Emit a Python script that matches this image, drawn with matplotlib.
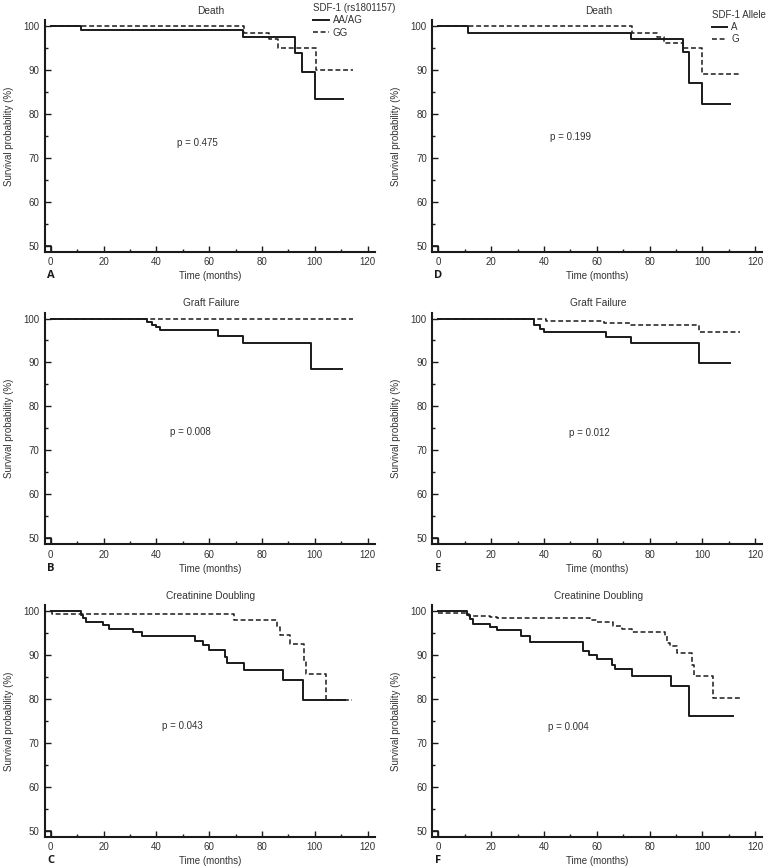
import matplotlib
matplotlib.use("Agg")
import matplotlib.pyplot as plt
from matplotlib.ticker import MultipleLocator

plt.rcParams['font.family'] = ['Liberation Sans', 'DejaVu Sans']

# Kaplan-Meier step data (time in months, survival %)
# A: Death, genotype
death_gt_aa_t = [0, 11.5, 72.9, 92.5, 95.0, 100.0, 110.8]
death_gt_aa_s = [100, 99.2, 97.6, 93.9, 89.6, 83.4, 83.4]
death_gt_gg_t = [0, 73.2, 82.8, 86.2, 100.3, 114.6]
death_gt_gg_s = [100, 98.5, 97.0, 95.1, 90.1, 90.1]

# B: Graft failure, genotype
graft_gt_aa_t = [0, 36.3, 38.2, 39.7, 41.3, 63.3, 72.8, 98.6, 110.3]
graft_gt_aa_s = [100, 99.1, 98.5, 98.0, 97.3, 96.1, 94.5, 88.6, 88.6]
graft_gt_gg_t = [0, 114.3]
graft_gt_gg_s = [100, 100]

# C: Creatinine doubling, genotype
creat_gt_aa_t = [0, 11.3, 12.4, 13.2, 19.7, 22.2, 31.3, 34.4, 54.6, 57.5, 60.0,
                 66.0, 66.9, 73.2, 88.1, 95.4, 111.4]
creat_gt_aa_s = [100, 99.1, 98.3, 97.6, 96.8, 95.9, 95.1, 94.3, 93.2, 92.3, 91.1,
                 89.6, 88.2, 86.6, 84.3, 79.8, 79.8]
creat_gt_gg_t = [0, 0.4, 69.4, 85.8, 86.8, 90.6, 95.9, 96.6, 104.2, 113.9]
creat_gt_gg_s = [100, 99.2, 97.95, 96.3, 94.5, 92.4, 88.5, 85.6, 79.7, 79.7]

# D: Death, allele
death_al_a_t = [0, 11.2, 72.8, 92.5, 94.9, 99.7, 110.5]
death_al_a_s = [100, 98.5, 97.0, 94.0, 87.0, 82.2, 82.2]
death_al_g_t = [0, 73.2, 82.7, 85.6, 92.5, 99.7, 114.2]
death_al_g_s = [100, 98.5, 97.4, 96.1, 94.9, 89.1, 89.1]

# E: Graft failure, allele
graft_al_a_t = [0, 36.1, 38.4, 40.0, 63.3, 72.8, 98.7, 110.5]
graft_al_a_s = [100, 98.6, 97.7, 97.0, 95.8, 94.5, 89.9, 89.9]
graft_al_g_t = [0, 37.7, 40.9, 62.9, 73.1, 98.7, 114.3]
graft_al_g_s = [100, 99.8, 99.5, 98.9, 98.5, 96.9, 96.9]

# F: Creatinine doubling, allele
creat_al_a_t = [0, 11.0, 12.0, 13.3, 19.6, 22.1, 31.2, 34.7, 54.7, 57.2, 60.0,
                65.9, 66.8, 73.2, 88.1, 95.0, 111.5]
creat_al_a_s = [100, 99.1, 98.1, 97.0, 96.4, 95.7, 94.2, 92.9, 91.0, 90.0, 89.1,
                87.7, 86.7, 85.1, 82.9, 76.0, 76.0]
creat_al_g_t = [0, 10.5, 11.7, 19.6, 22.1, 57.4, 60.0, 66.3, 69.4, 73.2, 85.8,
                86.5, 87.7, 90.5, 95.9, 96.8, 103.9, 114.2]
creat_al_g_s = [99.6, 99.3, 98.9, 98.7, 98.3, 97.9, 97.6, 96.6, 95.8, 95.1, 94.2,
                92.8, 92.0, 90.4, 87.7, 85.1, 80.1, 80.1]

titles = ["Death", "Graft Failure", "Creatinine Doubling"]
letters = [["A", "B", "C"], ["D", "E", "F"]]
pvalues = [["p = 0.475", "p = 0.008", "p = 0.043"],
           ["p = 0.199", "p = 0.012", "p = 0.004"]]
p_pos = [[(55.6, 73.4), (52.7, 74.2), (49.7, 73.9)],
         [(50.0, 74.8), (57.3, 74.0), (49.1, 73.7)]]
series = [
    [(death_gt_aa_t, death_gt_aa_s, death_gt_gg_t, death_gt_gg_s),
     (graft_gt_aa_t, graft_gt_aa_s, graft_gt_gg_t, graft_gt_gg_s),
     (creat_gt_aa_t, creat_gt_aa_s, creat_gt_gg_t, creat_gt_gg_s)],
    [(death_al_a_t, death_al_a_s, death_al_g_t, death_al_g_s),
     (graft_al_a_t, graft_al_a_s, graft_al_g_t, graft_al_g_s),
     (creat_al_a_t, creat_al_a_s, creat_al_g_t, creat_al_g_s)],
]
legend_titles = ["SDF-1 (rs1801157)", "SDF-1 Allele"]
legend_labels = [["AA/AG", "GG"], ["A", "G"]]

XMIN, XMAX = -2.2, 122.6
YMIN, YMAX = 48.6, 101.3
ink = "#1a1a1a"
txt_col = "#333333"

fig = plt.figure(figsize=(7.66, 8.67), dpi=100)
lefts = [0.0586, 0.5646]
bottoms = [0.7095, 0.3721, 0.0348]
W, H = 0.4304, 0.2671

for c in range(2):
    for r in range(3):
        ax = fig.add_axes([lefts[c], bottoms[r], W, H])
        t1, s1, t2, s2 = series[c][r]
        ax.step(t1, s1, where='post', color=ink, lw=1.4, label=legend_labels[c][0])
        ax.step(t2, s2, where='post', color=ink, lw=1.1, linestyle=(0, (3.2, 1.8)),
                label=legend_labels[c][1])
        # small axis-break bracket at the origin
        ax.plot([XMIN, 0, 0], [50, 50, YMIN], color=ink, lw=1.2, clip_on=False)

        ax.set_xlim(XMIN, XMAX)
        ax.set_ylim(YMIN, YMAX)
        ax.xaxis.set_major_locator(MultipleLocator(20))
        ax.xaxis.set_minor_locator(MultipleLocator(10))
        ax.yaxis.set_major_locator(MultipleLocator(10))
        ax.yaxis.set_minor_locator(MultipleLocator(5))
        ax.tick_params(which='both', direction='in', colors=ink, labelsize=7, width=1)
        ax.tick_params(which='major', length=4.5, pad=4)
        ax.tick_params(which='minor', length=2.5)
        ax.tick_params(axis='both', labelcolor=txt_col)
        for side in ['top', 'right']:
            ax.spines[side].set_visible(False)
        for side in ['left', 'bottom']:
            ax.spines[side].set_linewidth(1.5)
            ax.spines[side].set_color(ink)

        ax.set_ylabel("Survival probability (%)", fontsize=7, color=txt_col)
        ax.yaxis.set_label_coords(-0.094, 0.5)
        ax.set_xlabel("Time (months)", fontsize=7, color=txt_col)
        ax.xaxis.set_label_coords(0.50, -0.083)
        ax.text(0.504, 1.042, titles[r], transform=ax.transAxes, ha='center',
                va='center', fontsize=7.3, color=txt_col)
        px, py = p_pos[c][r]
        ax.text(px, py, pvalues[c][r], ha='center', va='center', fontsize=7,
                color=txt_col)
        ax.text(0.0176, -0.102, letters[c][r], transform=ax.transAxes, ha='center',
                va='center', fontsize=8, fontweight='bold', family='Open Sans',
                color=ink)

        if r == 0:
            anchor = (0.814, 1.076) if c == 0 else (0.847, 1.046)
            leg = ax.legend(title=legend_titles[c], loc='upper left',
                            bbox_to_anchor=anchor, frameon=False, fontsize=7,
                            title_fontsize=7, borderpad=0, borderaxespad=0,
                            handlelength=1.6, handletextpad=0.4,
                            labelspacing=0.25, alignment='left')
            leg.get_title().set_color(txt_col)
            for txt in leg.get_texts():
                txt.set_color(txt_col)

fig.savefig("out.png", dpi=100)
